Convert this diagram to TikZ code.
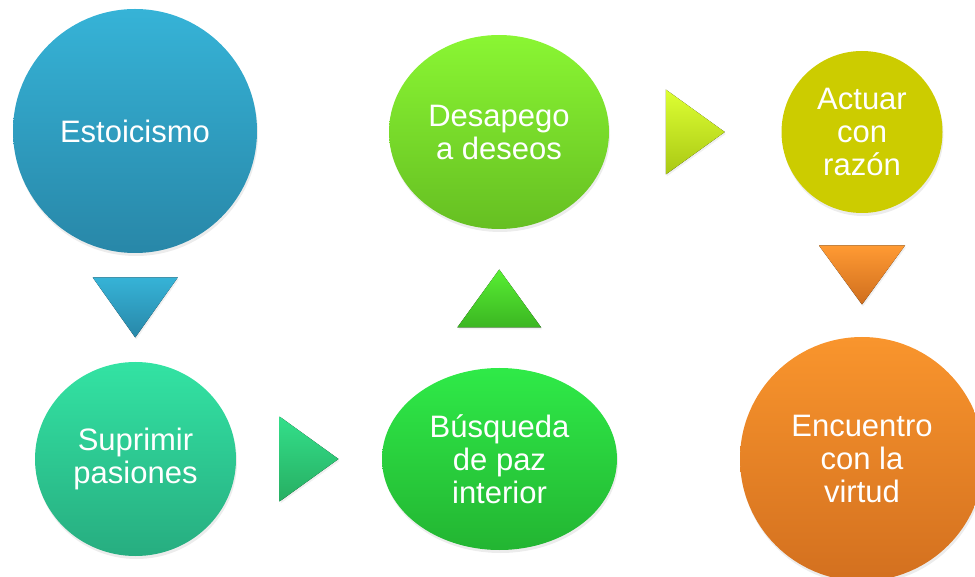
\documentclass[tikz,border=0pt]{standalone}
\usepackage{fontspec}
\setmainfont{Liberation Sans}
\usetikzlibrary{calc,shapes.geometric,shadows}
\definecolor{skyTop}{HTML}{36B3D7}
\definecolor{skyBot}{HTML}{2887A8}
\definecolor{mintTop}{HTML}{33E3A3}
\definecolor{mintBot}{HTML}{27AD80}
\definecolor{jadeTop}{HTML}{33DF8A}
\definecolor{jadeBot}{HTML}{27AE62}
\definecolor{leafTop}{HTML}{2FEA48}
\definecolor{leafBot}{HTML}{23B532}
\definecolor{grassTop}{HTML}{58EE33}
\definecolor{grassBot}{HTML}{3BB622}
\definecolor{limeTop}{HTML}{8AF633}
\definecolor{limeBot}{HTML}{66BF22}
\definecolor{citrTop}{HTML}{DDFF33}
\definecolor{citrBot}{HTML}{AAC814}
\definecolor{olive}{HTML}{CCCC00}
\definecolor{amberTop}{HTML}{FF9A33}
\definecolor{amberBot}{HTML}{CF6E1E}
\definecolor{rustTop}{HTML}{F9952D}
\definecolor{rustBot}{HTML}{D3701F}

\begin{document}
\begin{tikzpicture}[
  x=1pt, y=-1pt,
  bubble/.style={ellipse, inner sep=0pt, text=white, align=center,
    font=\fontsize{31}{33}\selectfont,
    drop shadow={opacity=0.15, shadow xshift=1pt, shadow yshift=-3pt}},
  tri/.style={drop shadow={opacity=0.12, shadow xshift=1pt, shadow yshift=-2pt}}
]
\clip (0,0) rectangle (975,577);
% stages
\node[bubble, minimum width=244pt, minimum height=244pt, top color=skyTop, bottom color=skyBot] (estoicismo) at (135,131) {Estoicismo};
\node[bubble, minimum width=201pt, minimum height=194pt, top color=mintTop, bottom color=mintBot] (suprimir) at (135.5,459) {Suprimir\\pasiones};
\node[bubble, minimum width=235pt, minimum height=182pt, top color=leafTop, bottom color=leafBot] (busqueda) at (499.5,459) {Búsqueda\\de paz\\interior};
\node[bubble, minimum width=220pt, minimum height=194pt, top color=limeTop, bottom color=limeBot] (desapego) at (499,132) {Desapego\\a deseos};
\node[bubble, minimum width=161pt, minimum height=162pt, fill=olive] (actuar) at (862,132) {Actuar\\con\\razón};
\node[bubble, minimum width=244pt, minimum height=244pt, top color=rustTop, bottom color=rustBot] (encuentro) at (862,459) {Encuentro\\con la\\virtud};
% arrow heads between stages
\coordinate (m1) at ($(estoicismo.south)!0.5!(suprimir.north)$);
\coordinate (m2) at ($(suprimir.east)!0.5!(busqueda.west)$);
\coordinate (m3) at ($(busqueda.north)!0.5!(desapego.south)$);
\coordinate (m4) at ($(desapego.east)!0.5!(actuar.west)$);
\coordinate (m5) at ($(actuar.south)!0.5!(encuentro.north)$);
\fill[tri, top color=skyTop, bottom color=skyBot] ($(m1)+(-42.5,-30)$) -- ($(m1)+(42.5,-30)$) -- ($(m1)+(0,30)$) -- cycle;
\fill[tri, top color=jadeTop, bottom color=jadeBot] ($(m2)+(-29.5,-42.5)$) -- ($(m2)+(29.5,0)$) -- ($(m2)+(-29.5,42.5)$) -- cycle;
\fill[tri, top color=grassTop, bottom color=grassBot] ($(m3)+(-42,29)$) -- ($(m3)+(42,29)$) -- ($(m3)+(0,-29)$) -- cycle;
\fill[tri, top color=citrTop, bottom color=citrBot] ($(m4)+(-29.5,-42.5)$) -- ($(m4)+(29.5,0)$) -- ($(m4)+(-29.5,42.5)$) -- cycle;
\fill[tri, top color=amberTop, bottom color=amberBot] ($(m5)+(-43,-29.5)$) -- ($(m5)+(43,-29.5)$) -- ($(m5)+(0,29.5)$) -- cycle;
\end{tikzpicture}
\end{document}
